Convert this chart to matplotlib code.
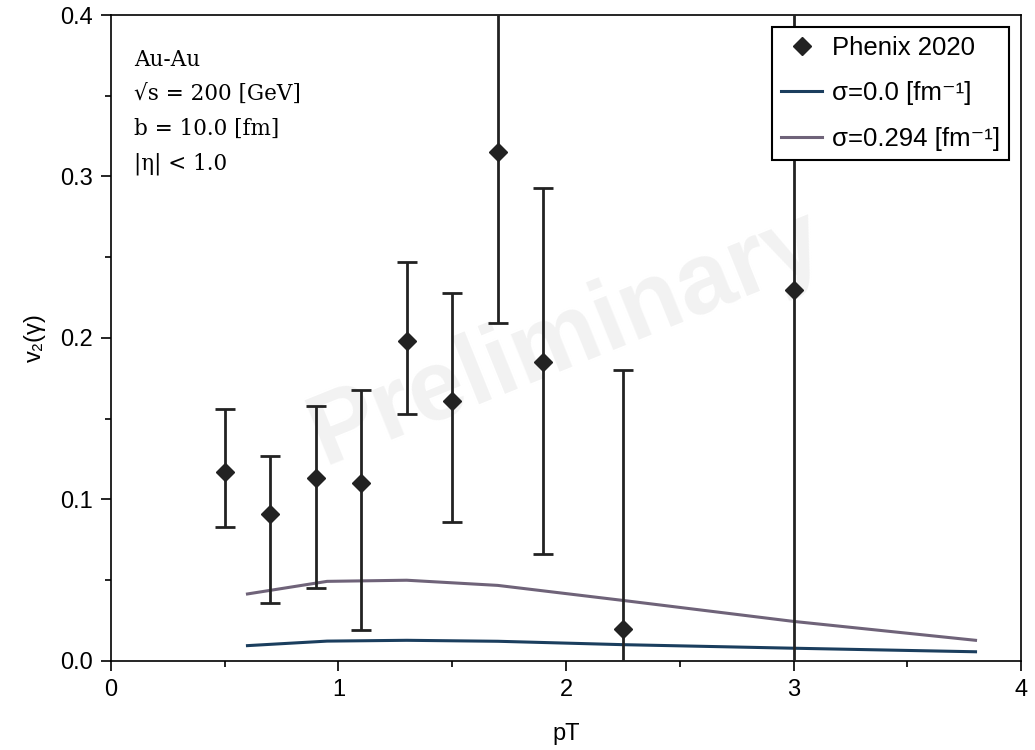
import matplotlib
matplotlib.use("Agg")
import matplotlib.pyplot as plt
import numpy as np
from matplotlib.ticker import MultipleLocator, FormatStrFormatter

plt.rcParams['font.family'] = ['Liberation Sans', 'DejaVu Sans']

# Phenix 2020 points
pt_data = [0.5, 0.7, 0.9, 1.1, 1.3, 1.5, 1.7, 1.9, 2.25, 3.0]
v2_data = [0.117, 0.091, 0.113, 0.110, 0.198, 0.161, 0.315, 0.185, 0.020, 0.230]
err_up = [0.039, 0.036, 0.045, 0.058, 0.049, 0.067, 0.150, 0.108, 0.160, 0.300]
err_down = [0.034, 0.055, 0.068, 0.091, 0.045, 0.075, 0.106, 0.119, 0.100, 0.300]

# model curves
pt_model = [0.6, 0.95, 1.3, 1.7, 2.25, 3.0, 3.8]
v2_sigma0 = [0.0095, 0.0123, 0.0128, 0.0122, 0.0101, 0.0079, 0.0057]
v2_sigma294 = [0.0415, 0.0493, 0.0500, 0.0468, 0.0375, 0.0245, 0.0128]

fig, ax = plt.subplots(figsize=(10.35, 7.5), dpi=100)
fig.subplots_adjust(left=0.1072, right=0.9865, top=0.98, bottom=0.1187)

ax.text(0.5, 0.5, "Preliminary", transform=ax.transAxes, rotation=22,
        ha="center", va="center", fontsize=72, fontweight="bold",
        color="#f2f2f2", zorder=0)

ax.errorbar(pt_data, v2_data, yerr=[err_down, err_up], fmt="none",
            ecolor="#222222", elinewidth=2, capsize=7, capthick=2, zorder=3)
ax.plot(pt_data, v2_data, "D", color="#222222", markersize=9,
        linestyle="none", label="Phenix 2020", zorder=4)
ax.plot(pt_model, v2_sigma0, color="#1b3e5e", lw=2.2, label="σ=0.0 [fm⁻¹]", zorder=2)
ax.plot(pt_model, v2_sigma294, color="#6f6379", lw=2.2, label="σ=0.294 [fm⁻¹]", zorder=2)

ax.set_xlim(0, 4)
ax.set_ylim(0, 0.4)
ax.xaxis.set_major_locator(MultipleLocator(1))
ax.xaxis.set_minor_locator(MultipleLocator(0.5))
ax.yaxis.set_major_locator(MultipleLocator(0.1))
ax.yaxis.set_minor_locator(MultipleLocator(0.05))
ax.yaxis.set_major_formatter(FormatStrFormatter("%.1f"))
ax.tick_params(which="both", direction="out", labelsize=17, width=1.2, top=False, right=False)
ax.tick_params(which="major", length=7, pad=6)
ax.tick_params(which="minor", length=4)
for s in ax.spines.values():
    s.set_linewidth(1.2)

ax.set_xlabel("pT", fontsize=17, labelpad=16)
ax.set_ylabel("v₂(γ)", fontsize=17, labelpad=10)

ax.text(0.025, 0.948, "Au-Au\n√s = 200 [GeV]\nb = 10.0 [fm]\n|η| < 1.0",
        transform=ax.transAxes, ha="left", va="top", fontsize=15.5,
        family="DejaVu Serif", linespacing=1.75)

leg = ax.legend(loc="upper right", fontsize=18.5, frameon=True, fancybox=False,
                edgecolor="black", framealpha=1, handlelength=1.6,
                handletextpad=0.4, borderpad=0.35, labelspacing=0.85,
                borderaxespad=0.45)
leg.get_frame().set_linewidth(1.5)

fig.savefig("out.png", dpi=100)
